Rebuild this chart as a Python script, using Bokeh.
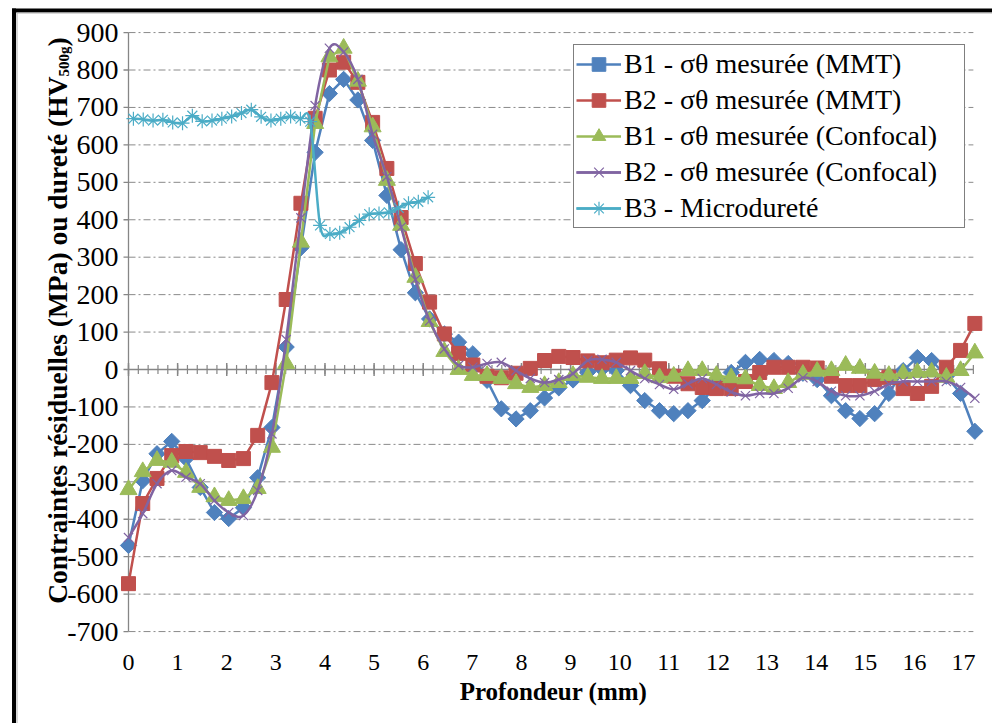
import math
from bokeh.plotting import figure
from bokeh.models import Range1d, Legend, LegendItem
from bokeh.embed import file_html
from bokeh.resources import INLINE
from bokeh.core.properties import value

# ---------------- data ----------------
depth = [0.00, 0.29, 0.58, 0.88, 1.17, 1.46, 1.75, 2.04, 2.34, 2.63,
         2.92, 3.21, 3.51, 3.80, 4.09, 4.38, 4.67, 4.97, 5.26, 5.55,
         5.84, 6.13, 6.43, 6.72, 7.01, 7.30, 7.59, 7.89, 8.18, 8.47,
         8.76, 9.05, 9.35, 9.64, 9.93, 10.22, 10.51, 10.81, 11.10, 11.39,
         11.68, 11.97, 12.27, 12.56, 12.85, 13.14, 13.43, 13.73, 14.02, 14.31,
         14.60, 14.89, 15.19, 15.48, 15.77, 16.06, 16.35, 16.65, 16.94, 17.23]

b1_mmt = [-470, -297, -225, -192, -238, -315, -382, -398, -369, -289,
          -155, 60, 325, 580, 737, 775, 720, 612, 465, 320,
          205, 135, 95, 73, 42, -29, -105, -132, -110, -76,
          -49, -28, -7, 2, -3, -43, -83, -110, -118, -110,
          -83, -45, -8, 19, 27, 24, 16, -10, -27, -70,
          -110, -131, -118, -64, -3, 32, 24, -18, -64, -165]

b2_mmt = [-572, -358, -291, -230, -219, -222, -232, -243, -238, -176,
          -35, 187, 444, 671, 800, 821, 767, 660, 537, 406,
          283, 180, 95, 43, 12, -18, -22, -10, 3, 24,
          35, 32, 23, 18, 25, 31, 25, 2, -18, -38,
          -48, -51, -51, -32, -8, 6, 6, 6, 4, -18,
          -43, -43, -27, -21, -51, -64, -45, 6, 51, 123]

b1_conf = [-321, -273, -243, -248, -275, -315, -340, -350, -345, -318,
           -208, 16, 340, 657, 835, 858, 770, 648, 505, 385,
           246, 128, 48, 0, -16, -16, -24, -38, -48, -43,
           -35, -16, -21, -24, -24, -24, -11, -22, -18, -3,
           -3, -16, -22, -25, -43, -51, -35, -13, -5, -3,
           11, 3, -10, -16, -11, -8, -7, -21, -3, 44]

b2_conf = [-449, -385, -305, -270, -288, -305, -350, -382, -390, -323,
           -172, 80, 405, 705, 858, 848, 775, 628, 515, 380,
           240, 130, 55, 11, 6, 16, 19, -3, -24, -35,
           -27, -11, 24, 27, 19, -3, -24, -40, -53, -38,
           -24, -40, -60, -70, -64, -64, -50, -22, -32, -58,
           -70, -70, -58, -39, -32, -32, -32, -32, -48, -77]

hv_depth = [0.1, 0.3, 0.5, 0.7, 0.9, 1.1, 1.3, 1.5, 1.7, 1.9,
            2.1, 2.3, 2.5, 2.7, 2.9, 3.1, 3.3, 3.5, 3.7, 3.9,
            4.1, 4.3, 4.5, 4.7, 4.9, 5.1, 5.3, 5.5, 5.7, 5.9, 6.1]
b3_hv = [670, 668, 665, 667, 660, 658, 678, 663, 665, 670,
         676, 685, 694, 675, 665, 670, 676, 670, 662, 385,
         362, 365, 380, 398, 415, 417, 420, 432, 444, 448, 460]

series_labels = ["B1 - σθ mesurée (MMT)", "B2 - σθ mesurée (MMT)",
                 "B1 - σθ mesurée (Confocal)", "B2 - σθ mesurée (Confocal)",
                 "B3 - Microdureté"]

y_ticks = list(range(-700, 901, 100))
y_tick_labels = [str(t) for t in y_ticks]
x_ticks = list(range(0, 18))
x_tick_labels = [str(t) for t in x_ticks]
x_minor = [round(k * 0.2, 1) for k in range(0, 87)]

x_title = "Profondeur (mm)"
y_title_main = "Contraintes résiduelles (MPa) ou dureté (HV"
y_title_sub = "500g"
y_title_end = ")"

# ---------------- geometry (canvas = whole window) ----------------
W, H = 992, 723
X0_PX, XPU = 128.0, 49.12          # pixel of x=0, pixels per mm
Y0_PX, YPU = 369.0, 599.0 / 1600   # pixel of y=0, pixels per MPa


def dx(px):
    return (px - X0_PX) / XPU


def dy(py):
    return (Y0_PX - py) / YPU


def smooth(xs, ys):
    """Cubic Bezier pieces through the points (Excel-like smoothed line)."""
    n = len(xs)
    out = {k: [] for k in ("x0", "y0", "x1", "y1", "cx0", "cy0", "cx1", "cy1")}
    for i in range(n - 1):
        a = max(i - 1, 0)
        b = min(i + 2, n - 1)
        out["x0"].append(xs[i]); out["y0"].append(ys[i])
        out["x1"].append(xs[i + 1]); out["y1"].append(ys[i + 1])
        out["cx0"].append(xs[i] + (xs[i + 1] - xs[a]) / 6)
        out["cy0"].append(ys[i] + (ys[i + 1] - ys[a]) / 6)
        out["cx1"].append(xs[i + 1] - (xs[b] - xs[i]) / 6)
        out["cy1"].append(ys[i + 1] - (ys[b] - ys[i]) / 6)
    return out


x_end = 17.2

FONT = "Tinos"
GRID = "#8a8a8a"
AXIS = "#868686"
C_BLUE, C_RED, C_GREEN, C_PURPLE, C_CYAN = "#4F81BD", "#C0504D", "#9BBB59", "#8064A2", "#4BACC6"

p = figure(width=W, height=H, output_backend="svg", toolbar_location=None,
           x_range=Range1d(dx(0), dx(W)), y_range=Range1d(dy(H), dy(0)),
           min_border=0)
p.axis.visible = False
p.outline_line_color = None
p.xgrid.visible = False
p.ygrid.visible = False
p.background_fill_color = "white"
p.border_fill_color = "white"

# outer frame of the chart area
p.segment(x0=[dx(13.5)], x1=[dx(13.5)], y0=[dy(8)], y1=[dy(H)], line_color="black", line_width=4)
p.segment(x0=[dx(11.5)], x1=[dx(W)], y0=[dy(10)], y1=[dy(10)], line_color="black", line_width=4)
p.segment(x0=[dx(16.5)], x1=[dx(16.5)], y0=[dy(12.5)], y1=[dy(H)], line_color="#b0b0b0", line_width=1)
p.segment(x0=[dx(16.5)], x1=[dx(W)], y0=[dy(12.5)], y1=[dy(12.5)], line_color="#b0b0b0", line_width=1)

# gridlines (dash-dot), axis lines and tick marks
grid_y = [t for t in y_ticks if t != 0]
p.segment(x0=[0] * len(grid_y), x1=[x_end] * len(grid_y), y0=grid_y, y1=grid_y,
          line_color=GRID, line_width=1, line_dash="7 3 2 3")
p.segment(x0=[0], x1=[0], y0=[y_ticks[0]], y1=[y_ticks[-1]], line_color=AXIS, line_width=1.3)
p.segment(x0=[0], x1=[x_end], y0=[0], y1=[0], line_color=AXIS, line_width=1.3)
p.segment(x0=[dx(123)] * len(y_ticks), x1=[0] * len(y_ticks), y0=y_ticks, y1=y_ticks,
          line_color=AXIS, line_width=1.3)
p.segment(x0=x_minor, x1=x_minor, y0=[dy(Y0_PX + 4.5)] * len(x_minor),
          y1=[dy(Y0_PX - 4.5)] * len(x_minor), line_color=AXIS, line_width=1.2)
p.segment(x0=x_ticks, x1=x_ticks, y0=[dy(Y0_PX + 6.5)] * len(x_ticks),
          y1=[dy(Y0_PX - 6.5)] * len(x_ticks), line_color=AXIS, line_width=1.5)

# tick labels and titles
p.text(x=[dx(118)] * len(y_ticks), y=y_ticks, text=y_tick_labels,
       text_font=value(FONT), text_font_size=value("28px"), text_color="black",
       text_align="right", text_baseline="middle")
p.text(x=x_ticks, y=[dy(662)] * len(x_ticks), text=x_tick_labels,
       text_font=value(FONT), text_font_size=value("24px"), text_color="black",
       text_align="center", text_baseline="middle")
p.text(x=[dx(553)], y=[dy(691)], text=[x_title],
       text_font=value(FONT), text_font_size=value("25px"), text_font_style=value("bold"),
       text_color="black", text_align="center", text_baseline="middle")

sub_start_py = 76
p.text(x=[dx(57)], y=[dy(sub_start_py)], text=[y_title_main], angle=math.pi / 2,
       text_font=value(FONT), text_font_size=value("27.5px"), text_font_style=value("bold"),
       text_color="black", text_align="right", text_baseline="alphabetic")
p.text(x=[dx(63)], y=[dy(sub_start_py)], text=[y_title_sub], angle=math.pi / 2,
       text_font=value(FONT), text_font_size=value("15px"), text_font_style=value("bold"),
       text_color="black", text_align="left", text_baseline="alphabetic")
p.text(x=[dx(57)], y=[dy(sub_start_py - 30)], text=[y_title_end], angle=math.pi / 2,
       text_font=value(FONT), text_font_size=value("27.5px"), text_font_style=value("bold"),
       text_color="black", text_align="left", text_baseline="alphabetic")

# series
items = []
l1 = p.line(depth, b1_mmt, line_color=C_BLUE, line_width=2.5)
s1 = p.scatter(depth, b1_mmt, marker="square", angle=math.pi / 4, size=11.5,
               fill_color=C_BLUE, line_color=C_BLUE)
items.append(LegendItem(label=series_labels[0], renderers=[l1, s1]))

l2 = p.line(depth, b2_mmt, line_color=C_RED, line_width=2.5)
s2 = p.scatter(depth, b2_mmt, marker="square", size=14,
               fill_color=C_RED, line_color=C_RED)
items.append(LegendItem(label=series_labels[1], renderers=[l2, s2]))

l3 = p.line(depth, b1_conf, line_color=C_GREEN, line_width=2.5)
s3 = p.scatter(depth, b1_conf, marker="triangle", size=17,
               fill_color=C_GREEN, line_color=C_GREEN)
items.append(LegendItem(label=series_labels[2], renderers=[l3, s3]))

bz4 = p.bezier(line_color=C_PURPLE, line_width=2.5, **smooth(depth, b2_conf))
l4 = p.line(x=depth[:1], y=b2_conf[:1], line_color=C_PURPLE, line_width=2.5)
s4 = p.scatter(depth, b2_conf, marker="x", size=13,
               line_color=C_PURPLE, line_width=1.2)
items.append(LegendItem(label=series_labels[3], renderers=[bz4, l4, s4]))

bz5 = p.bezier(line_color=C_CYAN, line_width=2.5, **smooth(hv_depth, b3_hv))
l5 = p.line(x=hv_depth[:1], y=b3_hv[:1], line_color=C_CYAN, line_width=2.5)
s5 = p.scatter(hv_depth, b3_hv, marker="asterisk", size=14,
               line_color=C_CYAN, line_width=1.2)
items.append(LegendItem(label=series_labels[4], renderers=[bz5, l5, s5]))

legend = Legend(items=items, location=(573, H - 228), orientation="vertical")
legend.label_text_font = FONT
legend.label_text_font_size = "28px"
legend.label_text_color = "black"
legend.glyph_width = 45
legend.glyph_height = 34
legend.label_height = 34
legend.label_width = 338
legend.spacing = 2
legend.padding = 2
legend.margin = 0
legend.label_standoff = 3
legend.border_line_color = "black"
legend.border_line_width = 1
legend.background_fill_color = "white"
legend.background_fill_alpha = 1
p.add_layout(legend)

open("out.html", "w").write(file_html(p, INLINE))
